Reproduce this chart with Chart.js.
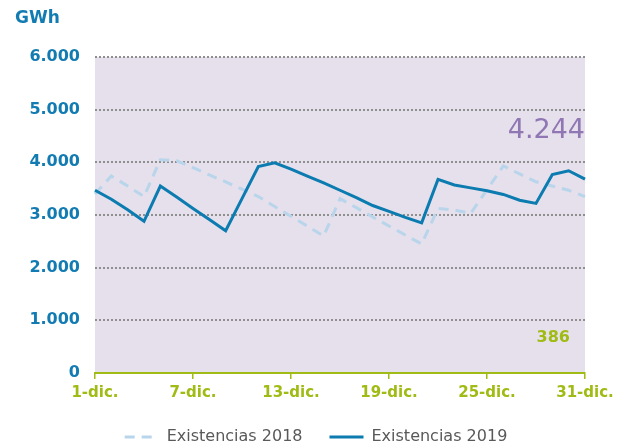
<!DOCTYPE html>
<html>
<head>
<meta charset="utf-8">
<script src="https://cdn.jsdelivr.net/npm/chart.js@4.4.1/dist/chart.umd.min.js"></script>
<style>
  html, body { margin: 0; padding: 0; background: #fff; }
  #wrap { width: 617px; height: 446px; }
</style>
</head>
<body>
<div id="wrap"><canvas id="stockChart"></canvas></div>
<script>
// Chart data
const days = ['1-dic.', '2-dic.', '3-dic.', '4-dic.', '5-dic.', '6-dic.', '7-dic.', '8-dic.', '9-dic.', '10-dic.',
    '11-dic.', '12-dic.', '13-dic.', '14-dic.', '15-dic.', '16-dic.', '17-dic.', '18-dic.', '19-dic.', '20-dic.',
    '21-dic.', '22-dic.', '23-dic.', '24-dic.', '25-dic.', '26-dic.', '27-dic.', '28-dic.', '29-dic.', '30-dic.', '31-dic.'];
const existencias2018 = [3400, 3740, 3550, 3350, 4050, 4030, 3900, 3760, 3630, 3490,
    3350, 3160, 2975, 2790, 2600, 3310, 3140, 2965, 2790, 2620,
    2450, 3125, 3095, 3030, 3480, 3930, 3780, 3630, 3550, 3470, 3350];
const existencias2019 = [3470, 3300, 3100, 2880, 3550, 3340, 3125, 2915, 2700, 3310,
    3920, 3990, 3870, 3740, 3610, 3470, 3330, 3180, 3070, 2955,
    2850, 3675, 3570, 3515, 3460, 3390, 3280, 3220, 3770, 3840, 3680];
const yTicks = [0, 1000, 2000, 3000, 4000, 5000, 6000];
const capacidadLabel = '4.244';
const minimoLabel = '386';

const blue = '#127bb2';
const green = '#a0bb14';

function fmt(v) {
    return String(v).replace(/\B(?=(\d{3})+(?!\d))/g, '.');
}

// plot background + extra texts
const extrasPlugin = {
    id: 'extras',
    beforeDraw(chart) {
        const a = chart.chartArea;
        const ctx = chart.ctx;
        ctx.save();
        ctx.fillStyle = '#e5e0ec';
        ctx.fillRect(a.left, a.top, a.right - a.left, a.bottom - a.top);
        ctx.restore();
    },
    afterDraw(chart) {
        const a = chart.chartArea;
        const ctx = chart.ctx;
        ctx.save();
        ctx.textBaseline = 'middle';
        ctx.fillStyle = blue;
        ctx.font = 'bold 17px "DejaVu Sans"';
        ctx.textAlign = 'left';
        ctx.fillText('GWh', 15, 19);
        ctx.fillStyle = '#9077b3';
        ctx.font = '27px "DejaVu Sans"';
        ctx.textAlign = 'right';
        ctx.fillText(capacidadLabel, a.right, 131);
        ctx.fillStyle = green;
        ctx.font = 'bold 16px "DejaVu Sans"';
        ctx.fillText(minimoLabel, a.right - 15, 338);
        ctx.restore();
    }
};

const ctx = document.getElementById('stockChart').getContext('2d');
const stockChart = new Chart(ctx, {
    type: 'line',
    data: {
        labels: days,
        datasets: [{
            label: 'Existencias 2018',
            data: existencias2018,
            borderColor: '#b9d5eb',
            borderWidth: 3,
            borderDash: [10, 7],
            pointRadius: 0,
            tension: 0,
            order: 1,
        }, {
            label: 'Existencias 2019',
            data: existencias2019,
            borderColor: '#0b7bb0',
            borderWidth: 3,
            pointRadius: 0,
            tension: 0,
            order: 0,
        }]
    },
    options: {
        responsive: true,
        maintainAspectRatio: false,
        animation: false,
        layout: {
            padding: { left: 15, right: 0, top: 57, bottom: -9 },
        },
        scales: {
            x: {
                border: { color: green, width: 2 },
                grid: {
                    drawOnChartArea: false,
                    tickLength: 6,
                    lineWidth: 1.5,
                    color: (c) => (c.index % 6 === 0 ? green : 'transparent'),
                },
                ticks: {
                    autoSkip: false,
                    maxRotation: 0,
                    padding: 5,
                    color: green,
                    font: { family: 'DejaVu Sans', size: 15, weight: 'bold' },
                    callback: function (value, index) {
                        return index % 6 === 0 ? days[index] : '';
                    },
                },
                afterFit(scale) {
                    scale.paddingRight = 32;
                    scale.height = 29;
                },
            },
            y: {
                min: 0,
                max: 6000,
                border: { display: false, dash: [2, 2] },
                grid: {
                    drawTicks: false,
                    lineWidth: 2,
                    color: (c) => (c.tick && c.tick.value === 0 ? 'transparent' : '#8f8f8f'),
                },
                ticks: {
                    stepSize: 1000,
                    padding: 15,
                    color: blue,
                    font: { family: 'DejaVu Sans', size: 16, weight: 'bold' },
                    callback: (v) => (yTicks.includes(v) ? fmt(v) : ''),
                },
                afterFit(scale) {
                    scale.width = 80;
                },
            },
        },
        plugins: {
            legend: {
                position: 'bottom',
                labels: {
                    usePointStyle: true,
                    pointStyle: 'line',
                    pointStyleWidth: 34,
                    padding: 27,
                    color: '#595959',
                    font: { family: 'DejaVu Sans', size: 16 },
                    sort: (a, b) => a.datasetIndex - b.datasetIndex,
                    generateLabels(chart) {
                        const items = Chart.defaults.plugins.legend.labels.generateLabels(chart);
                        items.forEach((item) => {
                            const ds = chart.data.datasets[item.datasetIndex];
                            item.lineDash = ds.borderDash || [];
                            item.lineWidth = ds.borderWidth;
                            item.strokeStyle = ds.borderColor;
                        });
                        return items;
                    },
                },
            },
            tooltip: { enabled: false },
        },
    },
    plugins: [extrasPlugin],
});
</script>
</body>
</html>
